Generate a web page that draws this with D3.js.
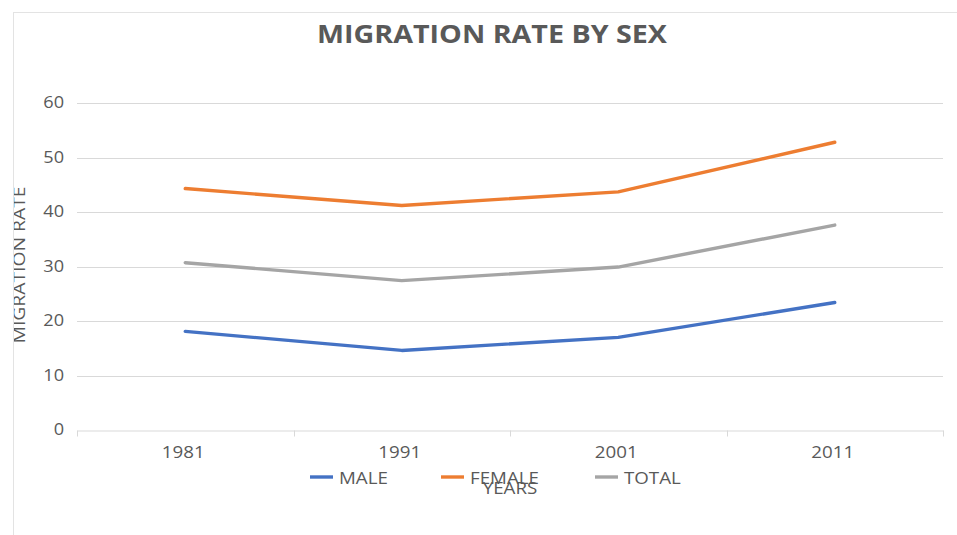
<!DOCTYPE html>
<html>
<head>
<meta charset="utf-8">
<script src="https://cdn.jsdelivr.net/npm/d3@7/dist/d3.min.js"></script>
<style>
  html, body { margin: 0; padding: 0; background: #fff; }
  svg { display: block; }
  text { font-family: "Open Sans", "Liberation Sans", sans-serif; fill: #595959; }
</style>
</head>
<body>
<svg id="chart" width="957" height="535"></svg>
<script>
// Census years and migration rates (%) by sex
const years = ["1981", "1991", "2001", "2011"];
const male = [18.1, 14.6, 17.0, 23.4];
const female = [44.3, 41.2, 43.7, 52.8];
const total = [30.7, 27.4, 29.9, 37.6];
const yTicks = [0, 10, 20, 30, 40, 50, 60];

const seriesNames = ["MALE", "FEMALE", "TOTAL"];
const seriesValues = [male, female, total];
const seriesColors = ["#4472C4", "#ED7D31", "#A5A5A5"];

const STRETCH = 1.17;   // labels are set slightly wide
function widen(sel) {
  sel.each(function () {
    const len = this.getComputedTextLength();
    d3.select(this)
      .attr("textLength", len * STRETCH)
      .attr("lengthAdjust", "spacingAndGlyphs");
  });
}

const svg = d3.select("#chart");

// clip for the chart area
svg.append("defs").append("clipPath").attr("id", "area")
  .append("rect").attr("x", 14).attr("y", 13).attr("width", 960).attr("height", 540);

// chart area frame
svg.append("rect")
  .attr("x", 13.5).attr("y", 12.5)
  .attr("width", 960).attr("height", 540)
  .attr("fill", "#fff").attr("stroke", "#e3e3e3");

const plot = { left: 77, right: 943, top: 103, bottom: 430 };

const x = d3.scaleBand().domain(years).range([plot.left, plot.right]);
const y = d3.scaleLinear().domain([0, 60]).range([plot.bottom, plot.top]);

// horizontal gridlines
svg.append("g")
  .selectAll("line")
  .data(yTicks.filter(d => d > 0))
  .join("line")
  .attr("x1", plot.left).attr("x2", plot.right)
  .attr("y1", d => Math.round(y(d)) + 0.5).attr("y2", d => Math.round(y(d)) + 0.5)
  .attr("stroke", "#d9d9d9").attr("stroke-width", 1);

// y axis labels
const yAxis = svg.append("g")
  .attr("transform", `translate(${plot.left},0)`)
  .call(d3.axisLeft(y).tickValues(yTicks).tickSize(0).tickPadding(13));
yAxis.select(".domain").remove();
yAxis.selectAll("text")
  .attr("font-size", 15.5)
  .attr("font-family", "'Open Sans', sans-serif")
  .attr("fill", "#595959")
  .call(widen);

// x axis with category boundary ticks
const xAxis = svg.append("g")
  .attr("transform", `translate(0,${Math.round(plot.bottom) + 0.5})`)
  .call(d3.axisBottom(x).tickSize(0).tickPadding(16));
xAxis.select(".domain").attr("stroke", "#d9d9d9");
xAxis.selectAll("text")
  .attr("font-size", 16)
  .attr("font-family", "'Open Sans', sans-serif")
  .attr("fill", "#595959")
  .attr("dx", -2)
  .call(widen);
const boundaries = years.map(d => x(d)).concat([plot.right]);
xAxis.selectAll(".bound")
  .data(boundaries)
  .join("line")
  .attr("class", "bound")
  .attr("x1", d => Math.round(d) + 0.5).attr("x2", d => Math.round(d) + 0.5)
  .attr("y1", 0).attr("y2", 6)
  .attr("stroke", "#d9d9d9");

// series lines
const line = d3.line()
  .x((d, i) => x(years[i]) + x.bandwidth() / 2)
  .y(d => y(d));

svg.append("g")
  .selectAll("path")
  .data(seriesValues)
  .join("path")
  .attr("d", d => line(d))
  .attr("fill", "none")
  .attr("stroke", (d, i) => seriesColors[i])
  .attr("stroke-width", 3.4)
  .attr("stroke-linejoin", "round")
  .attr("stroke-linecap", "round");

// title
svg.append("text")
  .attr("x", 492).attr("y", 43)
  .attr("text-anchor", "middle")
  .attr("font-size", 25).attr("font-weight", "bold")
  .attr("textLength", 350).attr("lengthAdjust", "spacingAndGlyphs")
  .text("MIGRATION RATE BY SEX");

// y axis title (its top edge runs into the frame)
svg.append("g").attr("clip-path", "url(#area)")
  .append("text")
  .attr("transform", "translate(24.5,265) rotate(-90)")
  .attr("text-anchor", "middle")
  .attr("font-size", 16.5)
  .text("MIGRATION RATE")
  .call(widen);

// legend
const legendX = [310, 441, 595];
const legend = svg.append("g")
  .selectAll("g")
  .data(seriesNames)
  .join("g")
  .attr("transform", (d, i) => `translate(${legendX[i]},477)`);
legend.append("line")
  .attr("x1", 0).attr("x2", 23).attr("y1", 0).attr("y2", 0)
  .attr("stroke", (d, i) => seriesColors[i])
  .attr("stroke-width", 3.4);
legend.append("text")
  .attr("x", 29).attr("y", 7)
  .attr("font-size", 16)
  .text(d => d)
  .call(widen);

// x axis title
svg.append("text")
  .attr("x", 510).attr("y", 494)
  .attr("text-anchor", "middle")
  .attr("font-size", 16)
  .text("YEARS")
  .call(widen);
</script>
</body>
</html>
